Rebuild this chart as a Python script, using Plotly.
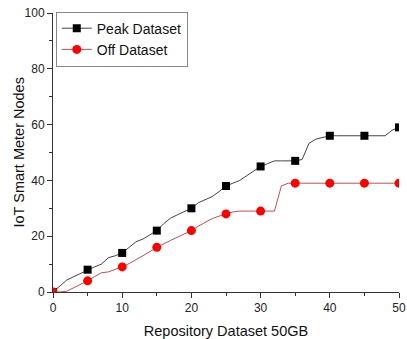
import plotly.graph_objects as go

x_vals = list(range(0, 51))
peak_y = [0, 2, 4.3, 5.5, 6.7, 8, 9, 10, 12.3, 13, 14, 16, 18, 19, 20.4, 22, 24.5, 26.5, 27.7, 28.8,
          30, 32, 33, 34.2, 36, 38, 39, 40, 41.7, 43.3, 45, 46, 47, 47, 47, 47, 47.5, 53.3, 54.8, 55.5,
          56, 56, 56, 56, 56, 56, 56, 56, 56, 58, 59]
off_y = [0, 0, 0.3, 1.5, 2.8, 4, 5.5, 6.9, 7.2, 8, 9, 10.2, 11.5, 13, 14.5, 16, 17.3, 18.5, 19.7, 21,
         22, 23.6, 25, 26.3, 27.2, 28, 28.7, 29, 29, 29, 29, 29, 29, 38, 39, 39, 39, 39, 39, 39,
         39, 39, 39, 39, 39, 39, 39, 39, 39, 39, 39]
marker_step = 5
x_title = "Repository Dataset 50GB"
y_title = "IoT Smart Meter Nodes"
FONT = "Liberation Sans, Arial"

def colors(c):
    return [c if (xv % marker_step == 0) else "rgba(0,0,0,0)" for xv in x_vals]

fig = go.Figure()
fig.add_trace(go.Scatter(
    x=x_vals, y=peak_y, mode="lines+markers", name="Peak Dataset",
    line=dict(color="#444444", width=1),
    marker=dict(symbol="square", size=8, color=colors("#000000"), line=dict(width=0)),
))
fig.add_trace(go.Scatter(
    x=x_vals, y=off_y, mode="lines+markers", name="Off Dataset",
    line=dict(color="#c05050", width=1),
    marker=dict(symbol="circle", size=9, color=colors("#ff0000"), line=dict(width=0)),
))

axis_common = dict(
    showline=True, linecolor="#333333", linewidth=1, ticks="outside", ticklen=5,
    tickcolor="#333333", showgrid=False, zeroline=False, mirror=False, automargin=False,
    tickfont=dict(family=FONT, size=12, color="#222222"),
)
fig.update_xaxes(range=[0, 50], dtick=10, tick0=0,
                 minor=dict(dtick=5, ticks="outside", ticklen=3, tickcolor="#333333"),
                 title=dict(text=x_title, standoff=12,
                            font=dict(family=FONT, size=14.5, color="#111111")),
                 **axis_common)
fig.update_yaxes(range=[0, 100], dtick=20, tick0=0,
                 minor=dict(dtick=10, ticks="outside", ticklen=3, tickcolor="#333333"),
                 **axis_common)
fig.add_annotation(text=y_title, xref="paper", yref="paper", x=0, y=0.5,
                   xanchor="center", yanchor="middle", xshift=-35, textangle=-90,
                   showarrow=False, font=dict(family=FONT, size=14.5, color="#111111"))
fig.update_layout(
    width=407, height=339,
    margin=dict(l=53, r=8, t=13, b=47),
    plot_bgcolor="white", paper_bgcolor="white",
    legend=dict(x=0.008, y=1.005, xanchor="left", yanchor="top",
                bgcolor="white", bordercolor="#888888", borderwidth=1,
                font=dict(family=FONT, size=14, color="#111111"),
                tracegroupgap=0, itemwidth=30),
    showlegend=True,
)
fig.write_html("out.html")
